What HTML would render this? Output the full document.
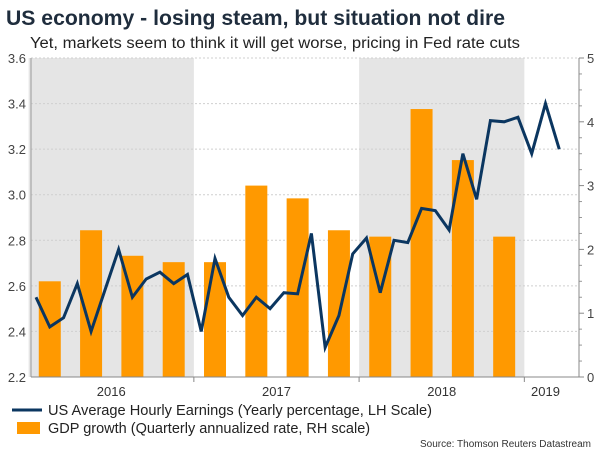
<!DOCTYPE html>
<html><head><meta charset="utf-8"><style>
body{margin:0;background:#fff;font-family:"Liberation Sans",sans-serif;}
svg text{font-family:"Liberation Sans",sans-serif;}
</style></head><body>
<svg width="600" height="450" xmlns="http://www.w3.org/2000/svg">
<text x="6" y="25" font-size="21.5" font-weight="bold" fill="#1f2d3d" textLength="499" lengthAdjust="spacingAndGlyphs">US economy - losing steam, but situation not dire</text>
<text x="30" y="48" font-size="15.5" fill="#222" textLength="490" lengthAdjust="spacingAndGlyphs">Yet, markets seem to think it will get worse, pricing in Fed rate cuts</text>
<g id="plot"></g>
<line x1="12" y1="410" x2="42" y2="410" stroke="#0b3660" stroke-width="3"/>
<text x="48" y="415" font-size="14.5" fill="#222" textLength="384" lengthAdjust="spacingAndGlyphs">US Average Hourly Earnings (Yearly percentage, LH Scale)</text>
<rect x="17" y="422" width="23" height="12" fill="#ff9900"/>
<text x="48" y="433" font-size="14.5" fill="#222">GDP growth (Quarterly annualized rate, RH scale)</text>
<text x="591" y="447" font-size="10" fill="#333" text-anchor="end">Source: Thomson Reuters Datastream</text>
</svg>
<script>
const earnings=[2.55,2.42,2.46,2.61,2.40,2.58,2.76,2.55,2.63,2.66,2.61,2.65,2.40,2.72,2.55,2.47,2.55,2.50,2.57,2.565,2.83,2.33,2.47,2.74,2.81,2.57,2.80,2.79,2.94,2.93,2.845,3.18,2.98,3.325,3.32,3.34,3.18,3.40,3.20];
const gdp=[1.5,2.3,1.9,1.8,1.8,3.0,2.8,2.3,2.2,4.2,3.4,2.2];
const years=["2016","2017","2018","2019"];
const leftTicks=[2.2,2.4,2.6,2.8,3.0,3.2,3.4,3.6];
const rightTicks=[0,1,2,3,4,5];
const NS="http://www.w3.org/2000/svg";
const g=document.getElementById('plot');
const L=31,R=579,T=58,B=377,M=13.77,X0=36;
const xm=i=>X0+i*M;
const yl=v=>B-(v-2.2)/1.4*(B-T);
const yr=v=>B-v/5*(B-T);
function el(t,a){const e=document.createElementNS(NS,t);for(const k in a)e.setAttribute(k,a[k]);g.appendChild(e);return e;}
const yb=y=>X0-M/2+y*12*M-0.5;
[0,2].forEach(y=>{const r=el('rect',{x:yb(y),y:T,width:12*M,height:B-T,fill:'#e5e5e5'});

});
leftTicks.forEach(v=>{if(v===2.2)return;const l=el('line',{x1:L,x2:R,y1:yl(v),y2:yl(v),stroke:'#cfcfcf','stroke-dasharray':'2,2','stroke-width':1});


const t=el('text',{x:26,y:yl(v)+5,'font-size':13,fill:'#444','text-anchor':'end'});t.textContent=v.toFixed(1);

});
const t0=el('text',{x:26,y:B+5,'font-size':13,fill:'#444','text-anchor':'end'});t0.textContent='2.2';


rightTicks.forEach(v=>{const t=el('text',{x:587,y:yr(v)+5,'font-size':13,fill:'#444'});t.textContent=v;


el('line',{x1:R,x2:R+5,y1:yr(v),y2:yr(v),stroke:'#888'});});
for(let v=0.25;v<5;v+=0.25){if(v%1)el('line',{x1:R,x2:R+3,y1:yr(v),y2:yr(v),stroke:'#999'});}
gdp.forEach((v,i)=>{const c=xm(3*i+1);const r=el('rect',{x:c-11,y:yr(v),width:22,height:B-yr(v),fill:'#ff9900'});

});
const p=el('polyline',{points:earnings.map((v,i)=>xm(i)+','+yl(v)).join(' '),fill:'none',stroke:'#0b3660','stroke-width':3,'stroke-linejoin':'miter'});


el('line',{x1:L,x2:L,y1:T,y2:B,stroke:'#999'});
el('line',{x1:R,x2:R,y1:T,y2:B,stroke:'#888'});
el('line',{x1:L,x2:R,y1:B,y2:B,stroke:'#888'});
years.forEach((y,k)=>{const s=yb(k),e=Math.min(yb(k+1),R);
if(k>0)el('line',{x1:s,x2:s,y1:B,y2:B+5,stroke:'#888'});
const t=el('text',{x:k<3?(s+e)/2:xm(36+1),y:396,'font-size':13,fill:'#333','text-anchor':'middle'});t.textContent=y;

});
</script>
</body></html>
